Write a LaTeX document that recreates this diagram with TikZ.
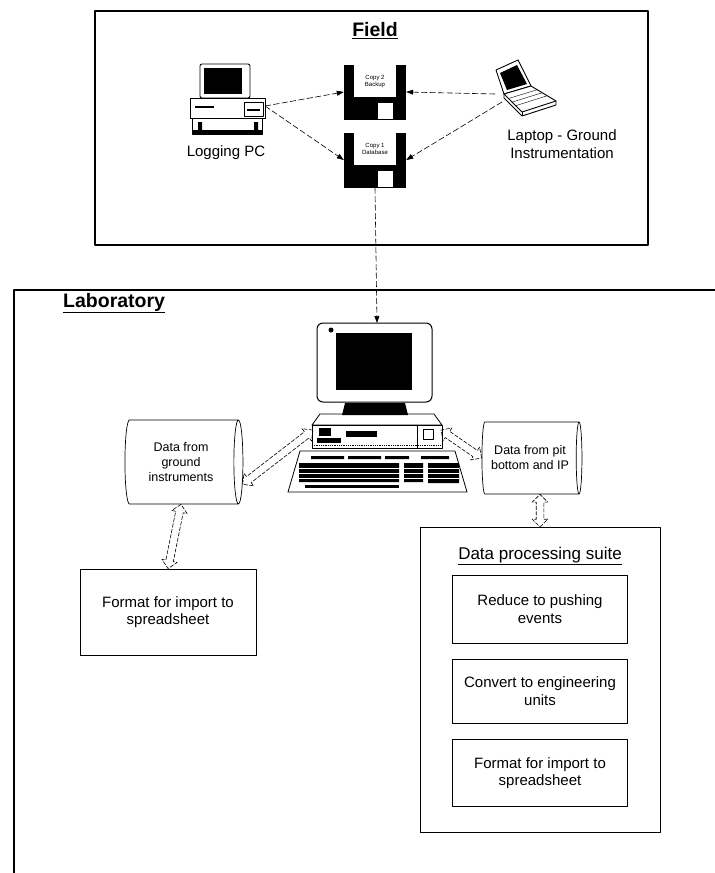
\documentclass[tikz,border=0pt]{standalone}
\usepackage{fontspec}
\setmainfont{Liberation Sans}
\usetikzlibrary{arrows.meta, calc, shapes.geometric, shapes.arrows}

\newcommand{\fntmain}{\fontsize{15}{17.5}\selectfont}
\newcommand{\fntstore}{\fontsize{12.5}{15}\selectfont}
\newcommand{\fnttitle}{\bfseries\fontsize{19.5}{22}\selectfont}
\newcommand{\fnttag}{\fontsize{6}{7}\selectfont}

\tikzset{
  title/.style={font=\fnttitle, inner sep=1pt},
  caption/.style={font=\fntmain, align=center, inner sep=1pt},
  box/.style={draw, line width=0.9pt, align=center, font=\fntmain, inner sep=2pt},
  datastore/.style={cylinder, draw, line width=0.7pt, aspect=0.22, align=center,
    font=\fntstore, inner sep=1pt},
  disk/.style={fill=black, minimum width=62, minimum height=55, inner sep=0pt},
  disktag/.style={fill=white, minimum width=42, minimum height=32, inner sep=0pt,
    align=center, font=\fnttag},
  link/.style={line width=0.6pt, dash pattern=on 6pt off 2.5pt,
    -{Triangle[length=7pt, width=5pt]}},
  exchange/.style={double arrow, draw, line width=0.6pt, dash pattern=on 4pt off 1.5pt,
    inner sep=3.5pt, double arrow head extend=4pt, double arrow head indent=0pt},
  % logging pc on the field desk
  desktop/.pic={
    \draw[line width=0.9pt, rounded corners=2pt, fill=white] (-28,-36) rectangle (22,-2);
    \fill (-24,-32) rectangle (14,-6);
    \draw[line width=0.9pt] (-38,-2) rectangle (37,18);
    \fill (-33,6) rectangle (-14,8);
    \draw (16,2) rectangle (35,16);
    \fill (19,9) rectangle (32,11);
    \draw[line width=0.9pt] (-36,18) rectangle (34,34);
    \fill (-36,30) rectangle (34,34);
    \fill (-30,22) rectangle (-26,30) (26,22) rectangle (30,30);
    \coordinate (-out) at (37,6);
  },
  % field laptop
  laptop/.pic={
    \draw[line width=0.9pt, fill=white] (-30,-18) -- (-8,-28) -- (5,-2) -- (-22,6) -- cycle;
    \fill (-26,-15) -- (-9,-23) -- (1,-4) -- (-19,2) -- cycle;
    \draw[line width=0.9pt, fill=white] (-22,6) -- (5,-2) -- (30,13) -- (-4,24) -- cycle;
    \draw[line width=0.9pt] (-22,6) -- (-22,10) -- (-4,28) -- (30,17) -- (30,13);
    \draw (-4,24) -- (-4,28);
    \foreach \k in {0.25, 0.45, 0.65}
      \draw ($(-22,6)!\k!(-4,24)$) -- ($(5,-2)!\k!(30,13)$);
    \coordinate (-a) at (-31,6);
    \coordinate (-b) at (-24,14);
  },
  % lab workstation
  workstation/.pic={
    \draw[line width=1pt, rounded corners=6pt, fill=white] (-60,-87) rectangle (55,-8);
    \fill (-41,-77) rectangle (35,-20);
    \fill (-46,-80) circle (2.5);
    \fill (-32,-7) -- (28,-7) -- (31,5) -- (-35,5) -- cycle;
    \draw[line width=0.8pt] (-57,4) -- (57,4) -- (65,15) -- (-65,15) -- cycle;
    \draw[line width=0.8pt] (-65,15) rectangle (65,38);
    \fill (-58,18) rectangle (-46,26);
    \fill (-60,28) rectangle (-36,33);
    \fill (-31,21) rectangle (0,27);
    \draw (40,15) -- (40,38);
    \draw (46,19) rectangle (56,29);
    \draw[densely dotted, line width=0.8pt] (-65,35) -- (65,35);
    \draw[line width=0.8pt] (-77,41) -- (78,41) -- (90,82) -- (-89,82) -- cycle;
    \fill (-66,46) rectangle (-33,49) (-29,46) rectangle (4,49)
          (8,46) rectangle (32,49) (44,46) rectangle (72,49);
    \fill (-78,53) rectangle (22,72) (27,53) rectangle (46,72) (51,53) rectangle (82,73);
    \foreach \r in {58, 63, 68}
      \draw[white, line width=0.5pt] (-78,\r) -- (82,\r);
    \fill (-72,75) rectangle (22,78);
    \coordinate (-top) at (0,-87);
    \coordinate (-left) at (-64,20);
    \coordinate (-right) at (64,20);
  }
}

\begin{document}
\begin{tikzpicture}[x=1pt, y=-1pt, line join=round]
  \useasboundingbox (0,0) rectangle (715,873);

  % field
  \draw[line width=1.4pt] (95,11) rectangle (648,245);
  \node[title] (field-title) at (375,31) {\underline{Field}};

  \pic (logpc) at (228,100) {desktop};
  \node[caption] (logpc-name) at (226,153) {Logging PC};

  \pic (laptop) at (526,88) {laptop};
  \node[caption] (laptop-name) at (562,144) {Laptop - Ground\\Instrumentation};

  \node[disk] (copy2) at (375,92) {};
  \node[disktag] (copy2-tag) at ($(copy2.north)+(0,17)$) {Copy 2\\Backup};
  \fill[white] ($(copy2.south)+(-5,-17)$) rectangle ($(copy2.south)+(18,-1)$);
  \fill ($(copy2.south)+(-5,-17)$) rectangle ($(copy2.south)+(3,-1)$);

  \node[disk] (copy1) at (375,160) {};
  \node[disktag] (copy1-tag) at ($(copy1.north)+(0,17)$) {Copy 1\\Database};
  \fill[white] ($(copy1.south)+(-5,-17)$) rectangle ($(copy1.south)+(18,-1)$);
  \fill ($(copy1.south)+(-5,-17)$) rectangle ($(copy1.south)+(3,-1)$);

  \draw[link] (logpc-out) -- (copy2.west);
  \draw[link] (logpc-out) -- (copy1.west);
  \draw[link] (laptop-a) -- (copy2.east);
  \draw[link] (laptop-b) -- (copy1.east);

  % laboratory
  \draw[line width=1.4pt] (715,290) -- (14,290) -- (14,873);
  \node[title, anchor=west] (lab-title) at (62,303) {\underline{Laboratory}};

  \pic (labpc) at (377,410) {workstation};
  \draw[link] (copy1.south) -- (labpc-top);

  \node[datastore, minimum height=118, minimum width=84] (gnd) at (181,462)
    {Data from\\ground\\instruments};
  \node[datastore, minimum height=100, minimum width=72] (pit) at (530,458)
    {Data from pit\\bottom and IP};

  \node[box, minimum width=176, minimum height=86] (gnd-fmt) at (168,612)
    {Format for import to\\spreadsheet};

  \node[box, minimum width=240, minimum height=305] (suite) at (540,680) {};
  \node[caption, font=\fontsize{17}{20}\selectfont] (suite-title) at (540,556)
    {\underline{Data processing suite}};
  \node[box, minimum width=175, minimum height=68] (reduce) at (540,609)
    {Reduce to pushing\\events};
  \node[box, minimum width=175, minimum height=64] (convert) at (540,691)
    {Convert to engineering\\units};
  \node[box, minimum width=175, minimum height=67] (pit-fmt) at (540,773)
    {Format for import to\\spreadsheet};

  % transfers in both directions
  \path let \p1 = ($(labpc-left)-(gnd.-20)$), \n1 = {veclen(\x1,\y1)} in
    (gnd.-20) -- (labpc-left) node[exchange, midway, sloped, minimum height=\n1] (gnd-labpc) {};
  \path let \p1 = ($(pit.west)-(labpc-right)$), \n1 = {veclen(\x1,\y1)} in
    (labpc-right) -- (pit.west) node[exchange, midway, sloped, minimum height=\n1] (labpc-pit) {};
  \path let \p1 = ($(gnd-fmt.north)-(gnd.south)$), \n1 = {veclen(\x1,\y1)} in
    (gnd.south) -- (gnd-fmt.north) node[exchange, midway, sloped, minimum height=\n1] (gnd-gndfmt) {};
  \path let \p1 = ($(suite.north)-(pit.south -| suite.north)$), \n1 = {veclen(\x1,\y1)} in
    (pit.south -| suite.north) -- (suite.north) node[exchange, midway, sloped, minimum height=\n1] (pit-suite) {};
\end{tikzpicture}
\end{document}
